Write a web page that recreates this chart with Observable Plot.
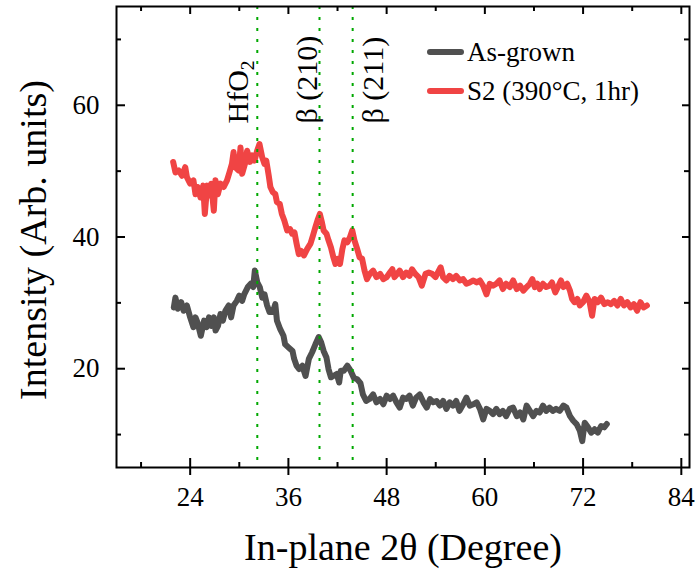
<!DOCTYPE html>
<html>
<head>
<meta charset="utf-8">
<script src="https://cdn.jsdelivr.net/npm/d3@7"></script>
<script src="https://cdn.jsdelivr.net/npm/@observablehq/plot@0.6"></script>
<style>
  html, body { margin: 0; padding: 0; background: #fff; }
  #chart svg { display: block; }
</style>
</head>
<body>
<div id="chart"></div>
<script>
// ---------------- DATA ----------------
const asGrownTheta = [22.0,22.2,22.5,22.9,23.2,23.6,24.0,24.4,24.65,24.9,25.3,25.7,26.0,26.3,26.6,26.9,27.1,27.4,27.7,28.0,28.3,28.7,29.0,29.3,29.7,30.0,30.35,30.6,31.04,31.4,31.7,31.9,32.2,32.5,32.8,33.08,33.4,33.7,34.1,34.4,34.6,35.0,35.4,35.6,36.05,36.5,36.7,37.0,37.3,37.7,38.1,38.5,38.9,39.3,39.7,40.0,40.3,40.65,40.9,41.2,41.5,41.9,42.2,42.4,42.77,43.2,43.6,44.0,44.4,44.8,45.1,45.5,45.9,46.35,46.76,47.2,47.6,48.0,48.4,48.8,49.2,49.6,50.0,50.4,50.8,51.2,51.6,52.05,52.5,52.9,53.3,53.7,54.1,54.5,54.9,55.3,55.7,56.1,56.5,56.9,57.35,57.75,58.16,58.6,59.0,59.4,59.8,60.2,60.6,61.0,61.4,61.8,62.2,62.6,63.05,63.45,63.9,64.3,64.7,65.1,65.5,65.9,66.3,66.7,67.1,67.5,67.9,68.3,68.7,69.15,69.6,69.97,70.4,70.8,71.2,71.6,71.9,72.2,72.6,73.0,73.4,73.8,74.2,74.6,74.9];
const asGrownIntensity = [29.3,30.8,29.1,30.1,28.8,29.6,27.8,26.3,27.8,27.0,25.0,27.3,26.3,27.8,26.5,27.8,25.8,26.5,28.3,27.3,28.8,29.6,27.8,29.6,30.3,31.1,30.3,31.3,32.4,32.9,32.4,34.9,33.1,32.4,30.8,31.3,29.6,28.6,28.6,29.8,27.3,26.0,25.0,23.7,23.2,22.7,21.5,20.45,19.95,20.45,18.9,21.5,22.5,23.7,24.8,24.0,22.7,21.7,19.95,18.7,18.9,19.2,17.9,19.7,19.7,20.45,19.7,18.6,18.4,17.8,16.1,15.1,15.4,16.1,14.9,15.4,14.6,15.9,15.4,15.9,14.9,14.1,15.6,15.4,15.9,14.4,15.6,16.1,14.9,14.1,15.4,14.9,15.1,14.4,15.1,13.9,14.9,14.4,15.1,13.6,14.6,15.6,14.4,14.6,14.9,13.9,12.3,13.9,13.6,13.1,13.9,13.1,13.6,12.8,13.9,14.1,12.8,13.35,12.3,14.4,13.6,12.8,13.6,13.35,14.4,13.6,14.1,13.6,13.9,13.6,14.4,14.1,12.8,12.1,11.6,10.6,9.0,11.8,11.1,10.3,10.8,10.3,11.3,11.1,11.6];

const s2Theta = [21.92,22.2,22.6,23.0,23.4,23.6,24.0,24.4,24.65,24.9,25.26,25.59,25.79,26.08,26.36,26.56,26.89,27.09,27.38,27.7,28.1,28.5,28.8,29.1,29.3,29.5,29.9,30.15,30.35,30.76,30.96,31.3,31.57,31.86,32.18,32.47,32.8,33.08,33.3,33.6,33.8,34.1,34.4,34.6,34.95,35.2,35.5,35.85,36.2,36.46,36.74,37.0,37.27,37.56,37.9,38.3,38.7,39.0,39.3,39.6,39.84,40.1,40.3,40.65,40.9,41.2,41.5,41.75,42.0,42.3,42.6,42.85,43.2,43.5,43.8,44.07,44.4,44.7,45.0,45.3,45.6,45.95,46.35,46.76,47.2,47.6,48.0,48.4,48.7,48.96,49.3,49.6,50.0,50.4,50.8,51.1,51.5,51.9,52.3,52.75,53.15,53.56,53.97,54.25,54.6,54.9,55.3,55.7,56.1,56.5,56.94,57.35,57.75,58.16,58.6,59.0,59.4,59.79,60.2,60.6,61.0,61.4,61.8,62.2,62.6,63.05,63.45,63.9,64.3,64.7,65.1,65.5,65.8,66.1,66.4,66.7,67.1,67.5,67.9,68.2,68.6,69.0,69.3,69.6,70.05,70.4,70.66,70.95,71.3,71.6,72.0,72.4,72.8,73.1,73.4,73.8,74.2,74.6,75.0,75.4,75.8,76.2,76.6,77.0,77.4,77.8,78.2,78.6,79.0,79.4,79.8];
const s2Intensity = [51.4,49.8,50.1,49.3,50.6,49.1,48.1,48.6,46.5,47.6,46.0,47.8,43.5,47.8,46.3,48.1,44.0,48.6,46.5,48.1,47.6,48.6,49.8,51.1,52.9,50.6,50.1,53.6,49.6,51.4,53.1,51.4,52.4,51.6,53.1,54.1,52.1,51.1,51.6,49.3,47.6,46.8,46.5,45.3,45.0,43.5,42.5,41.0,41.2,40.5,40.7,39.0,37.4,37.9,37.2,38.2,39.0,40.2,41.5,42.7,43.5,42.2,41.0,40.5,39.5,38.4,36.9,35.9,36.7,35.9,38.2,39.5,39.2,39.9,41.0,39.5,38.2,36.9,36.7,34.9,33.6,34.4,34.9,33.9,34.4,33.6,33.9,34.6,35.1,33.9,34.4,34.9,33.9,34.6,34.1,35.1,34.4,33.9,32.6,34.4,34.6,34.4,33.9,34.6,35.4,33.9,33.4,34.1,33.6,34.1,33.4,33.6,32.9,33.1,33.4,33.1,33.4,32.6,31.3,32.9,32.6,32.9,33.4,32.1,32.9,32.4,33.4,32.1,32.6,31.85,32.4,32.9,33.6,32.4,32.9,32.1,32.9,32.4,32.6,33.1,31.6,32.6,33.4,32.4,32.9,31.85,30.6,30.1,30.6,29.6,30.1,31.1,30.1,28.05,30.6,30.1,30.8,29.8,30.1,29.8,30.3,29.6,30.6,29.6,30.1,29.3,29.8,28.8,30.1,29.3,29.6];

const seriesNames = ["As-grown", "S2 (390°C, 1hr)"];
const peakPositions = [32.2, 39.8, 43.85];
const peakLabels = ["HfO2", "β (210)", "β (211)"];
const xMajorTicks = [24, 36, 48, 60, 72, 84];
const xMinorTicks = [18, 30, 42, 54, 66, 78];
const yMajorTicks = [20, 40, 60];
const yMinorTicks = [10, 30, 50, 70];

// ---------------- LAYOUT / STYLE ----------------
const W = 695, H = 572;
const M = {top: 6, right: 6, bottom: 105, left: 116};
const innerW = W - M.left - M.right;
const innerH = H - M.top - M.bottom;
const FONT = "'Liberation Serif','Times New Roman',serif";
const colors = ["#505050", "#f04444"];
const labelOffsets = [-19, -12, 21];

const asGrown = asGrownTheta.map((x, i) => ({x, y: asGrownIntensity[i]}));
const s2 = s2Theta.map((x, i) => ({x, y: s2Intensity[i]}));
const peaks = peakPositions.map((p, i) => ({p, label: peakLabels[i]}));

function legendMark() {
  return (index, scales, values, dims) => {
    const g = d3.create("svg:g").attr("font-family", FONT).attr("text-anchor", "start");
    seriesNames.forEach((name, i) => {
      const cy = 52 + i * 39;
      g.append("line").attr("x1", 430).attr("x2", 461).attr("y1", cy).attr("y2", cy)
        .attr("stroke", colors[i]).attr("stroke-width", 6).attr("stroke-linecap", "round");
      g.append("text").attr("x", 467).attr("y", cy).attr("dy", "0.32em")
        .attr("text-anchor", "start")
        .attr("font-size", 27).attr("fill", "black").text(name);
    });
    return g.node();
  };
}

const chart = Plot.plot({
  width: W, height: H,
  marginTop: M.top, marginRight: M.right, marginBottom: M.bottom, marginLeft: M.left,
  style: {fontFamily: FONT, background: "white", color: "black"},
  x: {domain: [15, 85]},
  y: {domain: [5, 75]},
  marks: [
    Plot.line(asGrown, {x: "x", y: "y", stroke: colors[0], strokeWidth: 6, strokeLinejoin: "round", strokeLinecap: "round"}),
    Plot.line(s2, {x: "x", y: "y", stroke: colors[1], strokeWidth: 6, strokeLinejoin: "round", strokeLinecap: "round"}),
    Plot.ruleX(peaks, {x: "p", stroke: "#00a800", strokeWidth: 2, strokeDasharray: "3,8"}),
    ...peaks.map((d, i) => Plot.text([d], {
      x: "p", text: "label", frameAnchor: "top", dy: 117, dx: labelOffsets[i],
      rotate: -90, textAnchor: "start", lineAnchor: "middle", fontSize: 30, fill: "black"
    })),
    Plot.frame({stroke: "black", strokeWidth: 2}),
    // bottom axis: crossing major ticks, inner minor ticks
    Plot.axisX(xMajorTicks, {anchor: "bottom", tickSize: 8, tickPadding: 11, fontSize: 27, label: null, strokeWidth: 2}),
    Plot.tickX(xMajorTicks, {insetTop: innerH - 9, stroke: "black", strokeWidth: 2}),
    Plot.tickX(xMinorTicks, {insetTop: innerH - 5, stroke: "black", strokeWidth: 2}),
    // top mirror ticks
    Plot.tickX(xMajorTicks, {insetBottom: innerH - 8, stroke: "black", strokeWidth: 2}),
    Plot.tickX(xMinorTicks, {insetBottom: innerH - 5, stroke: "black", strokeWidth: 2}),
    // left axis: inner ticks
    Plot.axisY(yMajorTicks, {anchor: "left", tickSize: 0, tickPadding: 17, fontSize: 27, label: null}),
    Plot.tickY(yMajorTicks, {insetRight: innerW - 9, stroke: "black", strokeWidth: 2}),
    Plot.tickY(yMinorTicks, {insetRight: innerW - 5, stroke: "black", strokeWidth: 2}),
    // right mirror ticks
    Plot.tickY(yMajorTicks, {insetLeft: innerW - 7, stroke: "black", strokeWidth: 2}),
    Plot.tickY(yMinorTicks, {insetLeft: innerW - 5, stroke: "black", strokeWidth: 2}),
    // axis titles
    Plot.text(["In-plane 2θ (Degree)"], {text: d => d, frameAnchor: "bottom", dy: 80, textAnchor: "middle", lineAnchor: "middle", fontSize: 38, fill: "black"}),
    Plot.text(["Intensity (Arb. units)"], {text: d => d, frameAnchor: "left", dx: -83, dy: 3, rotate: -90, textAnchor: "middle", lineAnchor: "middle", fontSize: 38, fill: "black"}),
    legendMark()
  ]
});

// subscript for HfO2
d3.select(chart).selectAll("text").filter(function() { return this.textContent === "HfO2"; })
  .each(function() {
    const t = d3.select(this);
    t.text("HfO");
    t.append("tspan").attr("font-size", "0.65em").attr("dy", "0.3em").text("2");
  });

document.getElementById("chart").appendChild(chart);
</script>
</body>
</html>
